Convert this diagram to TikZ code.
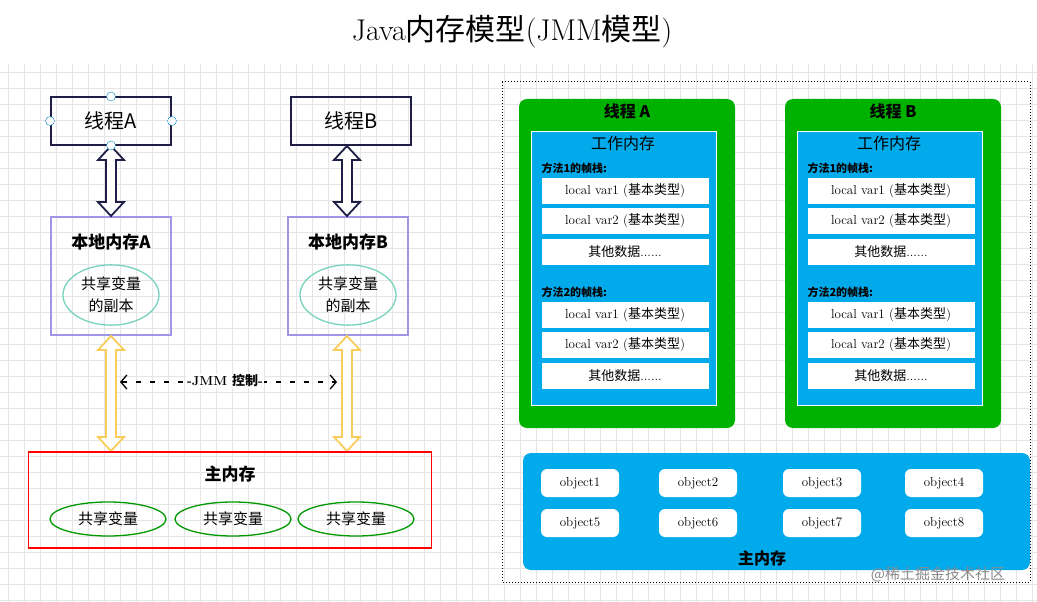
\documentclass[tikz,border=0pt]{standalone}
\usepackage{fontspec}
\newfontfamily\cjk{Noto Sans CJK SC}
\usetikzlibrary{shapes.geometric,arrows.meta,positioning}
\definecolor{navy}{RGB}{30,30,70}
\definecolor{lilac}{RGB}{160,150,230}
\definecolor{teal}{RGB}{120,210,190}
\definecolor{ggreen}{RGB}{0,178,0}
\definecolor{sky}{RGB}{0,170,235}
\definecolor{gold}{RGB}{250,205,90}
\tikzset{
  thread/.style={draw=navy, line width=2pt, minimum width=120, minimum height=47, font=\cjk\fontsize{20}{22}\selectfont},
  local/.style={draw=lilac, line width=1.5pt, minimum width=120, minimum height=118},
  copy/.style={ellipse, draw=teal, line width=1.3pt, minimum width=96, minimum height=60, align=center, font=\cjk\fontsize{15}{22}\selectfont},
  shared/.style={ellipse, draw=green!60!black, line width=1.3pt, minimum width=116, minimum height=34, font=\cjk\fontsize{15}{17}\selectfont},
  cell/.style={fill=white, minimum width=167, minimum height=26, inner sep=0pt, font=\fontsize{13}{15}\selectfont},
  obj/.style={fill=white, rounded corners=6pt, minimum width=78, minimum height=28, inner sep=0pt, font=\fontsize{13}{15}\selectfont},
  handle/.style={circle, draw=sky!80!black, fill=white, inner sep=0pt, minimum size=9},
  hollow/.style={draw=#1, line width=1.8pt, fill=white, line join=miter},
  boxtitle/.style={font=\cjk\bfseries\fontsize{17}{19}\selectfont}
}
\newcommand{\zh}[1]{{\cjk #1}}
% hollow double arrow: x, top y, bottom y, colour
\newcommand{\hollowarrow}[4]{%
  \draw[hollow=#4] (#1,#2) -- ++(13,14) -- ++(-8,0) -- (#1+5,#3-14) -- ++(8,0) -- (#1,#3)
    -- ++(-13,-14) -- ++(8,0) -- (#1-5,#2+14) -- ++(-8,0) -- cycle;}
\begin{document}
\begin{tikzpicture}[x=1pt,y=-1pt]
\useasboundingbox (0,0) rectangle (1037,602);
\fill[white] (0,0) rectangle (1037,602);
%% background grid
\foreach \gx in {8,24,...,1037} \draw[black!10] (\gx,64) -- (\gx,602);
\foreach \gy in {72,88,...,602} \draw[black!10] (0,\gy) -- (1037,\gy);
\node (title) at (512,32) {\fontsize{30}{34}\selectfont Java\zh{内存模型}(JMM\zh{模型})};

%% left side
\node[thread] (tA) at (111,121) {线程A};
\node[thread] (tB) at (351,121) {线程B};
\node[local] (lA) at (111,276) {};
\node[local] (lB) at (348,276) {};
\node[boxtitle] (lAt) at (111,242) {本地内存A};
\node[boxtitle] (lBt) at (348,242) {本地内存B};
\node[copy] (cA) at (111,295) {共享变量\\的副本};
\node[copy] (cB) at (348,295) {共享变量\\的副本};
\hollowarrow{111}{146}{216}{navy}
\hollowarrow{347}{146}{216}{navy}
\hollowarrow{111}{336}{451}{gold}
\hollowarrow{347}{336}{451}{gold}
\foreach \p in {tA.north,tA.south,tA.east,tA.west} \node[handle] at (\p) {};
\node[draw=red, line width=1.5pt, minimum width=403, minimum height=96] (main) at (230,500) {};
\node[boxtitle] at (230,474) {主内存};
\node[shared] (s1) at (108,519) {共享变量};
\node[shared] (s2) at (233,519) {共享变量};
\node[shared] (s3) at (356,519) {共享变量};
\coordinate (jl) at (120,382);
\coordinate (jr) at (337,382);
\draw[dashed, dash pattern=on 5pt off 9pt, line width=1.3pt, {Straight Barb[length=6pt,width=14pt]}-{Straight Barb[length=6pt,width=14pt]}] (jl) -- (jr);
\node[fill=white, inner sep=1pt, font=\bfseries\fontsize{13}{15}\selectfont] at (225,381) {-JMM \zh{控制}-};

%% right side
\draw[dotted, line width=1pt] (502,82) rectangle (1030,582);
\foreach \dx/\t in {0/A,266/B}{
  \fill[ggreen, rounded corners=8pt] (519+\dx,99) rectangle (735+\dx,428);
  \node[font=\cjk\bfseries\fontsize{16}{18}\selectfont] at (627+\dx,111) {线程 \t};
  \draw[white, fill=sky] (531+\dx,131) rectangle (716+\dx,405);
  \node[font=\cjk\fontsize{16}{18}\selectfont] at (623+\dx,143) {工作内存};
  \foreach \n/\oy in {1/0,2/124}{
    \node[anchor=west, font=\cjk\bfseries\fontsize{11}{13}\selectfont] at (538+\dx,168+\oy) {方法\n 的帧栈:};
    \node[cell] at (625+\dx,191+\oy) {local var1 (\zh{基本类型})};
    \node[cell] at (625+\dx,221+\oy) {local var2 (\zh{基本类型})};
    \node[cell] at (625+\dx,252+\oy) {\zh{其他数据}......};
  }
}
\fill[sky, rounded corners=8pt] (523,453) rectangle (1030,570);
\foreach \i/\ox/\oy in {1/580/483,2/698/483,3/822/483,4/944/483,5/580/523,6/698/523,7/822/523,8/944/523}
  \node[obj] (o\i) at (\ox,\oy) {object\i};
\node[font=\cjk\bfseries\fontsize{16}{18}\selectfont] at (762,558) {主内存};
\node[text=black!45, font=\cjk\fontsize{15}{17}\selectfont] at (938,574) {@稀土掘金技术社区};
\end{tikzpicture}
\end{document}
